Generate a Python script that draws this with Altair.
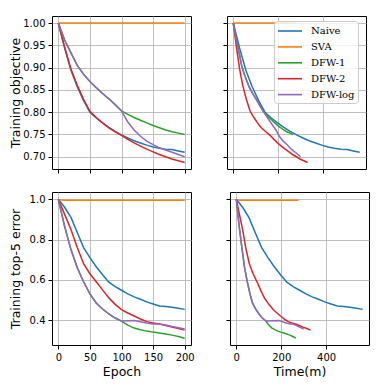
import altair as alt
import pandas as pd

methods = ["Naive", "SVA", "DFW-1", "DFW-2", "DFW-log"]
colors = ["#1f77b4", "#ff7f0e", "#2ca02c", "#d62728", "#9467bd"]

epochs = [0, 10, 20, 30, 40, 50, 60, 70, 80, 90, 100,
          110, 120, 130, 140, 150, 160, 170, 180, 190, 200]

# wall-clock time (minutes) at each epoch checkpoint
time_naive = [0, 28, 56, 84, 113, 141, 169, 197, 225, 253, 282, 310, 338, 366, 394, 422, 450, 479, 507, 535, 563]
time_sva = [0, 14, 28, 42, 55, 69, 83, 97, 111, 125, 139, 152, 166, 180, 194, 208, 222, 235, 249, 263, 277]
time_dfw1 = [0, 13, 26, 37, 49, 61, 72, 86, 101, 116, 132, 145, 159, 172, 185, 198, 212, 225, 238, 252, 265]
time_dfw2 = [0, 14, 28, 42, 58, 75, 92, 108, 125, 145, 164, 181, 197, 214, 231, 248, 264, 281, 297, 314, 331]
time_dfwlog = [0, 13, 26, 37, 49, 61, 72, 86, 101, 116, 132, 165, 190, 205, 222, 240, 252, 264, 276, 288, 300]

# training objective
obj_naive = [1.0, 0.944, 0.894, 0.857, 0.826, 0.800, 0.787, 0.776, 0.766, 0.757, 0.749,
             0.742, 0.736, 0.731, 0.726, 0.722, 0.719, 0.717, 0.716, 0.713, 0.710]
obj_sva = [1.0] * 21
obj_dfw1 = [1.0, 0.962, 0.933, 0.905, 0.885, 0.869, 0.855, 0.842, 0.830, 0.817, 0.803,
            0.795, 0.788, 0.782, 0.776, 0.770, 0.765, 0.760, 0.756, 0.753, 0.750]
obj_dfw2 = [1.0, 0.946, 0.897, 0.860, 0.829, 0.802, 0.788, 0.776, 0.765, 0.756, 0.748,
            0.739, 0.731, 0.724, 0.717, 0.711, 0.705, 0.700, 0.695, 0.691, 0.687]
obj_dfwlog = [1.0, 0.962, 0.933, 0.905, 0.885, 0.869, 0.855, 0.842, 0.830, 0.817, 0.803,
              0.778, 0.760, 0.746, 0.735, 0.727, 0.720, 0.715, 0.710, 0.705, 0.700]

# training top-5 error
err_naive = [1.0, 0.96, 0.91, 0.835, 0.76, 0.71, 0.665, 0.625, 0.588, 0.566, 0.548,
             0.530, 0.515, 0.503, 0.490, 0.480, 0.470, 0.467, 0.464, 0.459, 0.453]
err_sva = [0.997, 0.995, 0.995, 0.995, 0.995, 0.995, 0.995, 0.995, 0.995, 0.995, 0.995,
           0.995, 0.995, 0.995, 0.995, 0.995, 0.995, 0.995, 0.995, 0.995, 0.995]
err_dfw1 = [1.0, 0.865, 0.75, 0.66, 0.59, 0.53, 0.485, 0.455, 0.43, 0.41, 0.395,
            0.375, 0.360, 0.352, 0.345, 0.340, 0.336, 0.331, 0.325, 0.318, 0.310]
err_dfw2 = [1.0, 0.925, 0.85, 0.76, 0.68, 0.63, 0.59, 0.55, 0.51, 0.478, 0.452,
            0.435, 0.420, 0.405, 0.392, 0.385, 0.380, 0.373, 0.365, 0.358, 0.350]
err_dfwlog = [1.0, 0.865, 0.75, 0.66, 0.59, 0.53, 0.485, 0.455, 0.43, 0.41, 0.395,
              0.397, 0.398, 0.392, 0.385, 0.380, 0.380, 0.375, 0.368, 0.362, 0.355]

series = {
    "Naive": (time_naive, obj_naive, err_naive),
    "SVA": (time_sva, obj_sva, err_sva),
    "DFW-1": (time_dfw1, obj_dfw1, err_dfw1),
    "DFW-2": (time_dfw2, obj_dfw2, err_dfw2),
    "DFW-log": (time_dfwlog, obj_dfwlog, err_dfwlog),
}

rows = []
for m in methods:
    t, o, e = series[m]
    for i, ep in enumerate(epochs):
        rows.append({"method": m, "epoch": ep, "time": t[i], "obj": o[i], "err": e[i]})
df = pd.DataFrame(rows)

W, H = 139, 153
FONT = "DejaVu Sans"


def panel(xf, yf, xdom, xvals, ydom, yvals, yfmt, xlab, ylab, xtitle, ytitle, legend):
    xaxis_kw = dict(values=xvals, labels=xlab, title=xtitle, tickSize=4, labelPadding=3,
                    titlePadding=3)
    yaxis_kw = dict(values=yvals, labels=ylab, title=ytitle, tickSize=4, format=yfmt,
                    labelPadding=3, titlePadding=1)
    if ylab:
        yaxis_kw.update(minExtent=29, maxExtent=29)
    if legend:
        leg = alt.Legend(title=None, orient="none", legendX=47, legendY=5,
                         labelFont="DejaVu Serif", labelFontSize=10, labelColor="black",
                         symbolType="M-1,0H3", symbolSize=144, symbolStrokeWidth=1.6,
                         rowPadding=3.9, padding=3, labelOffset=20,
                         fillColor="rgba(255,255,255,0.8)", strokeColor="#cccccc",
                         cornerRadius=3)
    else:
        leg = None
    layers = []
    for m in methods:
        layers.append(
            alt.Chart(df)
            .transform_filter(alt.datum.method == m)
            .mark_line(strokeWidth=1.5, clip=True)
            .encode(
                x=alt.X(f"{xf}:Q", scale=alt.Scale(domain=xdom, nice=False, zero=False),
                        axis=alt.Axis(**xaxis_kw)),
                y=alt.Y(f"{yf}:Q", scale=alt.Scale(domain=ydom, nice=False, zero=False),
                        axis=alt.Axis(**yaxis_kw)),
                color=alt.Color("method:N", scale=alt.Scale(domain=methods, range=colors),
                                legend=leg),
            )
        )
    return alt.layer(*layers).properties(width=W, height=H)


ep_dom = [-10, 210]
t_dom = [-28, 591]
obj_dom = [0.6725, 1.0158]
err_dom = [0.276, 1.036]
ep_ticks = [0, 50, 100, 150, 200]
t_ticks = [0, 200, 400]
obj_ticks = [0.70, 0.75, 0.80, 0.85, 0.90, 0.95, 1.00]
err_ticks = [0.4, 0.6, 0.8, 1.0]

tl = panel("epoch", "obj", ep_dom, ep_ticks, obj_dom, obj_ticks, ".2f", False, True,
           None, "Training objective", False)
tr = panel("time", "obj", t_dom, t_ticks, obj_dom, obj_ticks, ".2f", False, False,
           None, None, True)
bl = panel("epoch", "err", ep_dom, ep_ticks, err_dom, err_ticks, ".1f", True, True,
           "Epoch", "Training top-5 error", False)
br = panel("time", "err", t_dom, t_ticks, err_dom, err_ticks, ".1f", True, False,
           "Time(m)", None, False)

top = alt.hconcat(tl, tr, spacing=30).resolve_legend(color="independent")
bottom = alt.hconcat(bl, br, spacing=30).resolve_legend(color="independent")

chart = (
    alt.vconcat(top, bottom, spacing=17)
    .resolve_legend(color="independent")
    .properties(padding={"left": 0, "top": 7, "right": 5, "bottom": 5})
    .configure_view(stroke="black", strokeWidth=1)
    .configure_axis(
        domain=False,
        tickColor="black",
        tickWidth=1,
        labelFont=FONT,
        labelFontSize=10,
        labelColor="black",
        titleFont=FONT,
        titleFontSize=12.5,
        titleFontWeight="normal",
        titleColor="black",
        gridColor="#b0b0b0",
        gridWidth=1,
        gridOpacity=0.8,
    )
)

chart.save("out.html", embed_options={"renderer": "svg", "actions": False})
